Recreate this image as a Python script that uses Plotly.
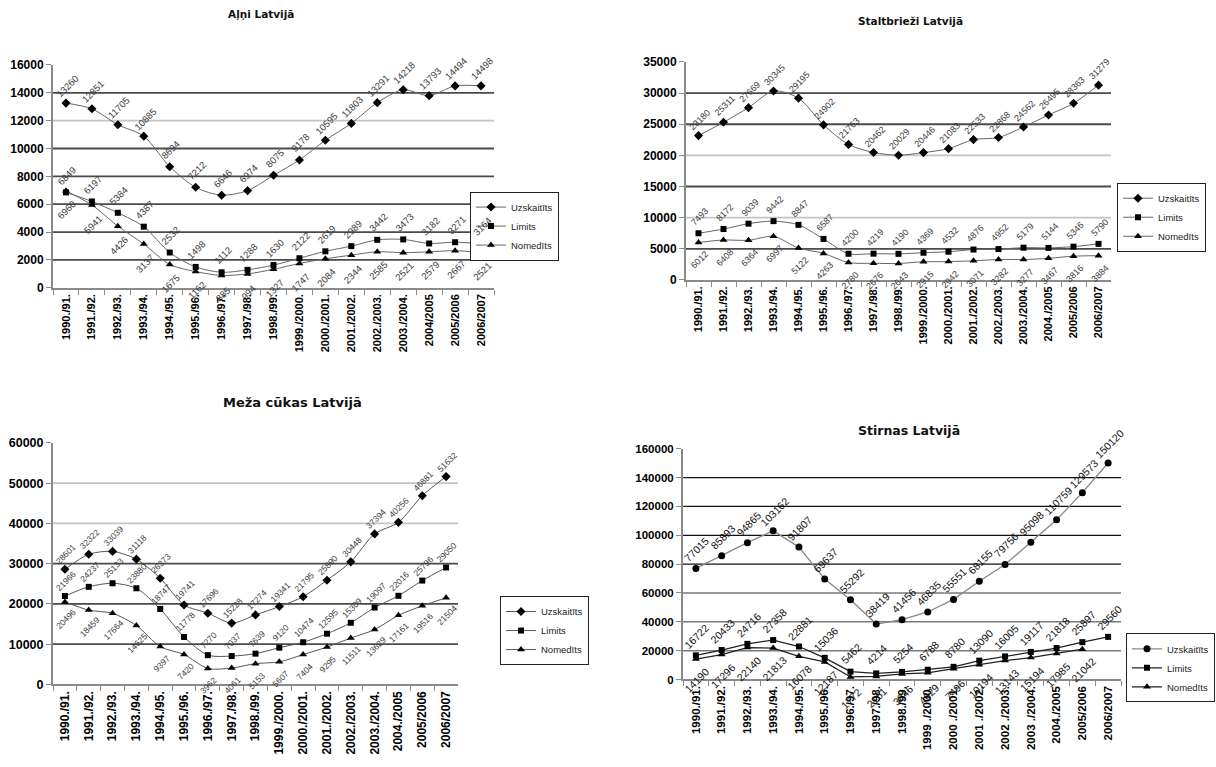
import plotly.graph_objects as go

W, H = 1216, 767

# ---- season labels -------------------------------------------------------
seasons_alni = ["1990./91.", "1991./92.", "1992./93.", "1993./94.", "1994./95.",
                "1995./96.", "1996./97.", "1997./98.", "1998./99.", "1999./2000.",
                "2000./2001.", "2001./2002.", "2002./2003.", "2003./2004.",
                "2004/2005", "2005/2006", "2006/2007"]
seasons_stalt = ["1990./91.", "1991./92.", "1992./93.", "1993./94.", "1994./95.",
                 "1995./96.", "1996./97.", "1997./98.", "1998./99.", "1999./2000.",
                 "2000./2001.", "2001./2002.", "2002./2003.", "2003./2004.",
                 "2004./2005", "2005/2006", "2006/2007"]
seasons_cukas = list(seasons_stalt)
seasons_stirnas = ["1990./91.", "1991./92.", "1992./93.", "1993./94.", "1994./95.",
                   "1995./96.", "1996./97.", "1997./98.", "1998./99.", "1999 ./2000.",
                   "2000 ./2001.", "2001 ./2002.", "2002 ./2003.", "2003 ./2004.",
                   "2004./2005", "2005/2006", "2006/2007"]

# ---- Aļņi (moose) --------------------------------------------------------
alni_uzskaitits = [13260, 12851, 11705, 10885, 8694, 7212, 6646, 6974, 8075, 9178,
                   10595, 11803, 13291, 14218, 13793, 14494, 14498]
alni_limits = [6849, 6197, 5384, 4387, 2532, 1498, 1112, 1288, 1630, 2122,
               2619, 2989, 3442, 3473, 3182, 3271, 3164]
alni_nomedits = [6960, 5941, 4426, 3137, 1675, 1162, 885, 994, 1327, 1747,
                 2084, 2344, 2585, 2521, 2579, 2667, 2521]

# ---- Staltbrieži (red deer) ----------------------------------------------
stalt_uzskaitits = [23180, 25311, 27669, 30345, 29195, 24902, 21763, 20462, 20029, 20446,
                    21083, 22533, 22868, 24562, 26495, 28363, 31279]
stalt_limits = [7493, 8172, 9039, 9442, 8847, 6587, 4200, 4219, 4190, 4369,
                4532, 4876, 4952, 5179, 5144, 5346, 5790]
stalt_nomedits = [6012, 6408, 6364, 6997, 5122, 4263, 2780, 2676, 2643, 2915,
                  2942, 3071, 3282, 3277, 3467, 3816, 3884]

# ---- Meža cūkas (wild boar) ----------------------------------------------
cukas_uzskaitits = [28601, 32322, 33039, 31118, 26373, 19741, 17696, 15228, 17274, 19341,
                    21795, 25890, 30448, 37394, 40256, 46881, 51632]
cukas_limits = [21966, 24237, 25133, 23880, 18747, 11778, 7270, 7037, 7639, 9120,
                10474, 12595, 15309, 19097, 22016, 25796, 29050]
cukas_nomedits = [20496, 18459, 17664, 14625, 9397, 7420, 3962, 4061, 5153, 5607,
                  7404, 9295, 11511, 13629, 17161, 19516, 21504]

# ---- Stirnas (roe deer) --------------------------------------------------
stirnas_uzskaitits = [77015, 85893, 94865, 103162, 91807, 69637, 55292, 38419, 41456, 46835,
                      55551, 68155, 79756, 95098, 110759, 129573, 150120]
stirnas_limits = [16722, 20433, 24716, 27358, 22881, 15036, 5462, 4214, 5254, 6788,
                  8780, 13090, 16005, 19117, 21818, 25897, 29560]
stirnas_nomedits = [14190, 17296, 22140, 21813, 16078, 12187, 1772, 2161, 3846, 4629,
                    7496, 10194, 13143, 15194, 17985, 21042, None]

series_names = ["Uzskaitīts", "Limits", "Nomedīts"]

charts = [
    dict(title="Aļņi Latvijā", cats=seasons_alni,
         data=[alni_uzskaitits, alni_limits, alni_nomedits],
         ymax=16000, step=2000, light=[12000],
         box=(53, 494, 59, 286), title_xy=(261, 7), title_size=10.5,
         legend_xy=(470, 188), ytick=12, xtick=11, lab=9.5, shift=17,
         line="#666666", lw=1, smooth=True, usym="diamond"),
    dict(title="Staltbrieži Latvijā", cats=seasons_stalt,
         data=[stalt_uzskaitits, stalt_limits, stalt_nomedits],
         ymax=35000, step=5000, light=[10000, 20000],
         box=(686, 1111, 56, 278), title_xy=(910, 14), title_size=10.5,
         legend_xy=(1117, 179), ytick=12, xtick=11, lab=9, shift=16,
         line="#666666", lw=1, smooth=True, usym="diamond"),
    dict(title="Meža cūkas Latvijā", cats=seasons_cukas,
         data=[cukas_uzskaitits, cukas_limits, cukas_nomedits],
         ymax=60000, step=10000, light=[40000, 50000],
         box=(53, 458, 444, 690), title_xy=(292, 403), title_size=13,
         legend_xy=(500, 600), ytick=12.5, xtick=12, lab=8.5, shift=15,
         line="#555555", lw=1, smooth=True, usym="diamond"),
    dict(title="Stirnas Latvijā", cats=seasons_stirnas,
         data=[stirnas_uzskaitits, stirnas_limits, stirnas_nomedits],
         ymax=160000, step=20000, light=[20000, 40000, 60000],
         box=(683, 1121, 450, 685), title_xy=(909, 431), title_size=12.5,
         legend_xy=(1126, 638), ytick=11.5, xtick=11.5, lab=10.5, shift=19,
         line="#222222", lw=1.3, smooth=False, usym="circle"),
]

fig = go.Figure()
layout = dict(width=W, height=H, margin=dict(l=0, r=0, t=0, b=0),
              paper_bgcolor="white", plot_bgcolor="white", showlegend=True)
annotations, shapes = [], []
FONT = "Liberation Sans, Arial, sans-serif"

for n, ch in enumerate(charts, start=1):
    sfx = "" if n == 1 else str(n)
    xa, ya = "x" + sfx, "y" + sfx
    x0, x1, y0, y1 = ch["box"]
    leg = "legend" + sfx
    ncat = len(ch["cats"])

    layout["xaxis" + sfx] = dict(
        domain=[x0 / W, x1 / W], anchor=ya, type="category",
        categoryorder="array", categoryarray=ch["cats"],
        range=[-0.5, ncat - 0.5], autorange=False,
        tickson="boundaries", ticks="outside", ticklen=5, tickcolor="#8a8a8a",
        showline=True, linecolor="#8a8a8a", linewidth=2, showgrid=False,
        tickangle=-90, fixedrange=True,
        tickfont=dict(family=FONT, size=ch["xtick"], color="#000", weight="bold"))
    layout["yaxis" + sfx] = dict(
        domain=[1 - y1 / H, 1 - y0 / H], anchor=xa,
        range=[0, ch["ymax"]], autorange=False,
        tick0=0, dtick=ch["step"], tickformat="d",
        ticks="outside", ticklen=5, tickcolor="#8a8a8a",
        showline=True, linecolor="#8a8a8a", linewidth=2, showgrid=False,
        zeroline=False, fixedrange=True,
        tickfont=dict(family=FONT, size=ch["ytick"], color="#000", weight="bold"))

    # horizontal gridlines (none on the top edge)
    g = ch["step"]
    while g < ch["ymax"]:
        if n == 4:
            col, wid = ("#7a7a7a", 1.5) if g in ch["light"] else ("#111111", 1.2)
        else:
            col, wid = ("#c4c4c4", 1.8) if g in ch["light"] else ("#4a4a4a", 1.8)
        shapes.append(dict(type="line", xref=xa + " domain", yref=ya, x0=0, x1=1,
                           y0=g, y1=g, line=dict(color=col, width=wid), layer="below"))
        g += ch["step"]

    symbols = [ch["usym"], "square", "triangle-up"]
    sizes = [7, 6, 7]
    for k, (name, vals) in enumerate(zip(series_names, ch["data"])):
        line_col = "#888888" if (n == 4 and k == 0) else ch["line"]
        fig.add_trace(go.Scatter(
            x=ch["cats"], y=vals, name=name, mode="lines+markers",
            xaxis=xa, yaxis=ya, legend=leg, cliponaxis=False,
            line=dict(color=line_col, width=ch["lw"],
                      shape="spline" if ch["smooth"] else "linear", smoothing=0.8),
            marker=dict(symbol=symbols[k], size=sizes[k], color="black",
                        line=dict(width=0))))
        # value labels: above for the first two series, below for the harvest
        dy = -ch["shift"] - 2 if k == 2 else ch["shift"]
        for c, v in zip(ch["cats"], vals):
            if v is None:
                continue
            annotations.append(dict(
                x=c, y=v, xref=xa, yref=ya, text=str(v), showarrow=False,
                textangle=-45, xshift=1, yshift=dy,
                font=dict(family=FONT, size=ch["lab"],
                          color="#111" if n == 4 else "#3a3a3a")))

    tx, ty = ch["title_xy"]
    annotations.append(dict(
        x=tx / W, y=1 - ty / H, xref="paper", yref="paper", text=ch["title"],
        showarrow=False, xanchor="center", yanchor="middle",
        font=dict(family="DejaVu Sans, sans-serif", size=ch["title_size"],
                  color="#111", weight="bold")))

    lx, ly = ch["legend_xy"]
    layout[leg] = dict(
        x=lx / W, y=1 - ly / H, xanchor="left", yanchor="top",
        bgcolor="white", bordercolor="#222", borderwidth=1,
        font=dict(family=FONT, size=9.5, color="#222"),
        tracegroupgap=0, itemwidth=30, itemclick=False, itemdoubleclick=False)

layout["annotations"] = annotations
layout["shapes"] = shapes
fig.update_layout(**layout)
fig.write_html("out.html")
